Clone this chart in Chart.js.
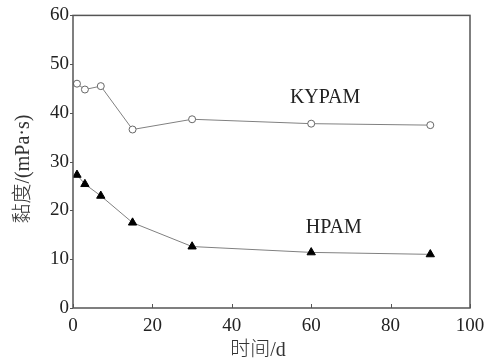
<!DOCTYPE html>
<html>
<head>
<meta charset="utf-8">
<script src="https://cdn.jsdelivr.net/npm/chart.js@4/dist/chart.umd.min.js"></script>
<style>
html,body{margin:0;padding:0;background:#fff;}
#wrap{width:494px;height:362px;position:relative;}
</style>
</head>
<body>
<div id="wrap"><canvas id="c" width="494" height="362"></canvas></div>
<script>
const days = [1, 3, 7, 15, 30, 60, 90];
const kypam = [46.0, 44.8, 45.5, 36.6, 38.7, 37.8, 37.5];
const hpam = [27.3, 25.4, 23.0, 17.5, 12.6, 11.4, 11.0];
const xTicks = [0, 20, 40, 60, 80, 100];
const yTicks = [0, 10, 20, 30, 40, 50, 60];
const xTitle = '时间/d';
const yTitle = '黏度/(mPa·s)';
const seriesLabels = [
  {text: 'KYPAM', x: 63.5, y: 43.2},
  {text: 'HPAM', x: 65.7, y: 16.4}
];

const serif = "'Liberation Serif', 'Noto Sans CJK SC', serif";
const axisColor = '#555';

const framePlugin = {
  id: 'frame',
  afterDraw(chart) {
    const ctx = chart.ctx, a = chart.chartArea;
    const xs = chart.scales.x, ys = chart.scales.y;
    ctx.save();
    ctx.strokeStyle = axisColor;
    ctx.lineWidth = 1.5;
    ctx.strokeRect(a.left, a.top, a.right - a.left, a.bottom - a.top);
    ctx.lineWidth = 1;
    xTicks.forEach(v => {
      const px = Math.round(xs.getPixelForValue(v)) + 0.5;
      ctx.beginPath();
      ctx.moveTo(px, a.bottom);
      ctx.lineTo(px, a.bottom - 4);
      ctx.stroke();
    });
    yTicks.forEach(v => {
      const py = Math.round(ys.getPixelForValue(v)) + 0.5;
      ctx.beginPath();
      ctx.moveTo(a.left, py);
      ctx.lineTo(a.left - 3, py);
      ctx.stroke();
    });
    ctx.fillStyle = '#222';
    ctx.textAlign = 'center';
    ctx.textBaseline = 'middle';
    ctx.font = "20px " + serif;
    seriesLabels.forEach(l => {
      ctx.fillText(l.text, xs.getPixelForValue(l.x), ys.getPixelForValue(l.y));
    });
    // axis titles
    ctx.fillStyle = '#333';
    ctx.font = "300 20px " + serif;
    ctx.fillText(xTitle, 258, 351);
    ctx.save();
    ctx.translate(24, 169);
    ctx.rotate(-Math.PI / 2);
    ctx.fillText(yTitle, 0, 0);
    ctx.restore();
    ctx.restore();
  }
};

new Chart(document.getElementById('c'), {
  type: 'scatter',
  data: {
    datasets: [
      {
        label: 'KYPAM',
        data: days.map((d, i) => ({x: d, y: kypam[i]})),
        showLine: true,
        borderColor: '#808080',
        borderWidth: 1,
        pointStyle: 'circle',
        pointRadius: 3.5,
        pointBackgroundColor: '#fff',
        pointBorderColor: '#666',
        pointBorderWidth: 1
      },
      {
        label: 'HPAM',
        data: days.map((d, i) => ({x: d, y: hpam[i]})),
        showLine: true,
        borderColor: '#808080',
        borderWidth: 1,
        pointStyle: 'triangle',
        pointRadius: 4.8,
        pointBackgroundColor: '#000',
        pointBorderColor: '#000',
        pointBorderWidth: 1
      }
    ]
  },
  options: {
    responsive: false,
    animation: false,
    devicePixelRatio: 1,
    layout: {padding: {top: 12, right: 24, bottom: 0, left: 0}},
    plugins: {legend: {display: false}, tooltip: {enabled: false}},
    scales: {
      x: {
        type: 'linear',
        min: 0, max: 100,
        afterBuildTicks: s => { s.ticks = xTicks.map(v => ({value: v})); },
        afterFit: s => { s.height = 54; },
        grid: {display: false, drawTicks: false},
        border: {display: false},
        ticks: {color: '#222', font: {family: serif, size: 19}, padding: 7, maxRotation: 0},
        title: {display: false, text: xTitle}
      },
      y: {
        type: 'linear',
        min: 0, max: 60,
        afterBuildTicks: s => { s.ticks = yTicks.map(v => ({value: v})); },
        afterFit: s => { s.width = 73; },
        grid: {display: false, drawTicks: false},
        border: {display: false},
        ticks: {color: '#222', font: {family: serif, size: 19}, padding: 4},
        title: {display: false, text: yTitle}
      }
    }
  },
  plugins: [framePlugin]
});
</script>
</body>
</html>
